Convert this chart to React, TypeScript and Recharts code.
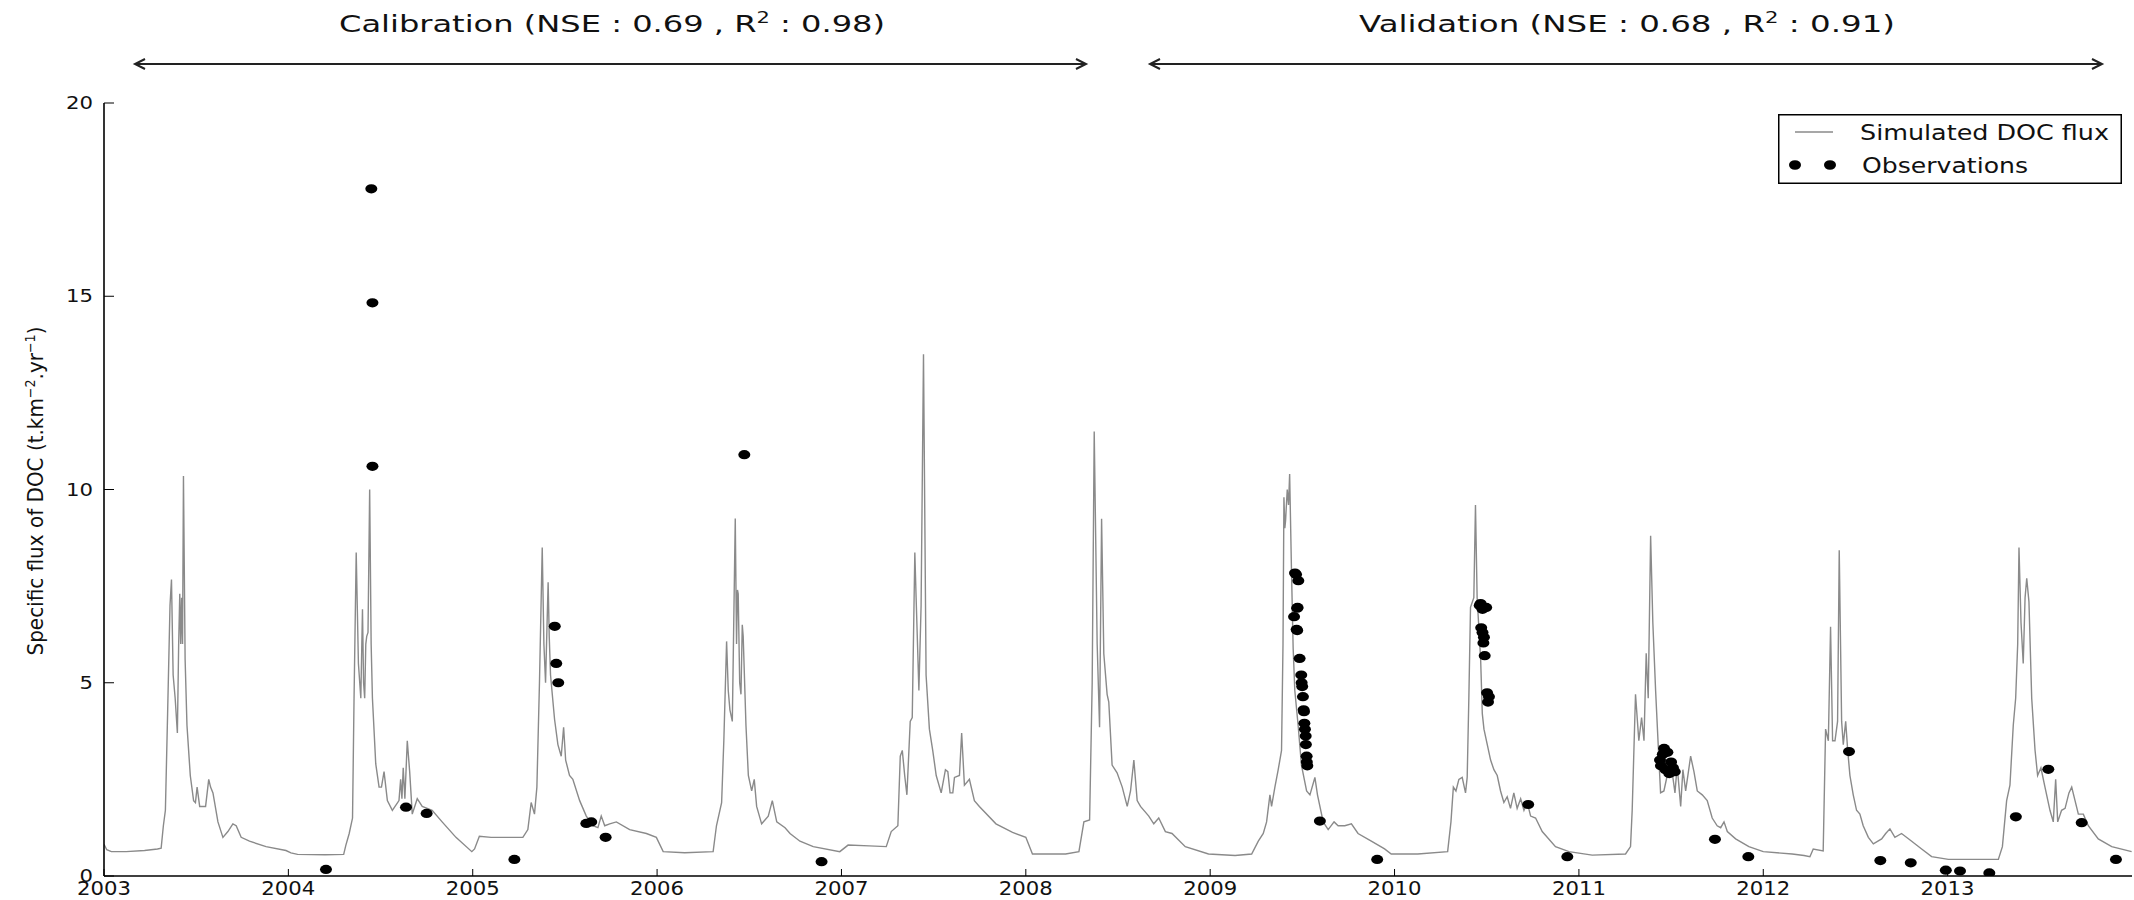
import React from 'react';
import { ComposedChart, Line, Scatter, XAxis, YAxis, Legend } from 'recharts';

const YEAR_TICKS = [2003, 2004, 2005, 2006, 2007, 2008, 2009, 2010, 2011, 2012, 2013];
const FLUX_TICKS = [0, 5, 10, 15, 20];

// simulated DOC flux, [decimal year, t.km-2.yr-1]
const sim2003 = [
    [2003.0, 0.82], [2003.015, 0.68], [2003.04, 0.63], [2003.12, 0.63], [2003.22, 0.66], [2003.29, 0.7],
    [2003.31, 0.72], [2003.322, 1.3], [2003.333, 1.7], [2003.345, 4.2], [2003.358, 7.0], [2003.366, 7.67],
    [2003.375, 5.2], [2003.386, 4.6], [2003.398, 3.7], [2003.405, 6.0], [2003.411, 7.3], [2003.416, 6.0],
    [2003.421, 7.2], [2003.426, 6.0], [2003.431, 10.35], [2003.44, 5.6], [2003.45, 3.9], [2003.468, 2.6],
    [2003.486, 1.95], [2003.496, 1.9], [2003.505, 2.3], [2003.519, 1.8], [2003.551, 1.8], [2003.568, 2.5],
    [2003.578, 2.3], [2003.591, 2.15], [2003.618, 1.4], [2003.645, 1.0], [2003.672, 1.15], [2003.699, 1.35],
    [2003.717, 1.3], [2003.744, 1.0], [2003.789, 0.9], [2003.879, 0.76], [2003.987, 0.66],
];
const sim2004 = [
    [2004.014, 0.6], [2004.05, 0.56], [2004.2, 0.55], [2004.3, 0.56], [2004.312, 0.8], [2004.33, 1.1],
    [2004.348, 1.5], [2004.356, 4.5], [2004.368, 8.37], [2004.38, 5.5], [2004.393, 4.6], [2004.402, 6.9],
    [2004.408, 5.0], [2004.414, 4.6], [2004.42, 6.0], [2004.425, 6.2], [2004.432, 6.3], [2004.441, 10.0],
    [2004.449, 6.0], [2004.456, 4.6], [2004.474, 2.9], [2004.492, 2.3], [2004.505, 2.3], [2004.519, 2.7],
    [2004.537, 1.95], [2004.564, 1.7], [2004.6, 1.95], [2004.609, 2.5], [2004.616, 2.0], [2004.623, 2.8],
    [2004.632, 2.0], [2004.645, 3.5], [2004.658, 2.7], [2004.672, 1.6], [2004.699, 2.0], [2004.726, 1.8],
    [2004.78, 1.7], [2004.834, 1.4], [2004.909, 1.0], [2004.995, 0.63],
];
const sim2005 = [
    [2005.01, 0.7], [2005.036, 1.03], [2005.1, 1.0], [2005.272, 1.0], [2005.299, 1.2], [2005.317, 1.9],
    [2005.335, 1.6], [2005.348, 2.3], [2005.362, 5.0], [2005.377, 8.5], [2005.386, 6.0], [2005.395, 5.0],
    [2005.409, 7.6], [2005.415, 6.2], [2005.422, 5.2], [2005.444, 4.05], [2005.462, 3.4], [2005.48, 3.1],
    [2005.493, 3.85], [2005.504, 3.0], [2005.525, 2.6], [2005.543, 2.5], [2005.58, 1.95], [2005.616, 1.55],
    [2005.652, 1.3], [2005.679, 1.25], [2005.697, 1.55], [2005.716, 1.3], [2005.743, 1.35], [2005.779, 1.4],
    [2005.851, 1.2], [2005.942, 1.1], [2005.996, 1.0],
];
const sim2006 = [
    [2006.033, 0.63], [2006.15, 0.6], [2006.304, 0.63], [2006.322, 1.3], [2006.35, 1.9], [2006.362, 3.5],
    [2006.377, 6.07], [2006.386, 4.8], [2006.395, 4.3], [2006.408, 4.0], [2006.424, 9.25], [2006.431, 6.0],
    [2006.436, 7.4], [2006.44, 7.3], [2006.448, 5.0], [2006.455, 4.7], [2006.462, 6.5], [2006.467, 6.2],
    [2006.482, 3.9], [2006.495, 2.6], [2006.513, 2.2], [2006.527, 2.5], [2006.54, 1.8], [2006.567, 1.35],
    [2006.603, 1.55], [2006.625, 1.95], [2006.649, 1.4], [2006.694, 1.25], [2006.721, 1.1], [2006.775, 0.9],
    [2006.847, 0.76], [2006.991, 0.63],
];
const sim2007 = [
    [2007.036, 0.8], [2007.15, 0.78], [2007.243, 0.76], [2007.27, 1.15], [2007.306, 1.3], [2007.319, 3.1],
    [2007.33, 3.25], [2007.343, 2.6], [2007.355, 2.1], [2007.373, 4.0], [2007.384, 4.1], [2007.398, 8.37],
    [2007.405, 7.2], [2007.42, 4.8], [2007.432, 7.0], [2007.445, 13.5], [2007.459, 5.2], [2007.477, 3.8],
    [2007.495, 3.25], [2007.514, 2.6], [2007.541, 2.15], [2007.564, 2.75], [2007.577, 2.7], [2007.589, 2.15],
    [2007.604, 2.15], [2007.613, 2.55], [2007.64, 2.6], [2007.652, 3.7], [2007.667, 2.35], [2007.694, 2.5],
    [2007.721, 1.95], [2007.748, 1.8], [2007.838, 1.35], [2007.928, 1.13], [2008.0, 1.0],
];
const sim2008 = [
    [2008.036, 0.57], [2008.216, 0.57], [2008.288, 0.63], [2008.315, 1.4], [2008.346, 1.45], [2008.36, 5.0],
    [2008.371, 11.5], [2008.387, 6.0], [2008.4, 3.85], [2008.411, 9.24], [2008.423, 5.75], [2008.441, 4.7],
    [2008.45, 4.5], [2008.468, 2.87], [2008.495, 2.67], [2008.523, 2.3], [2008.55, 1.8], [2008.568, 2.2],
    [2008.586, 3.0], [2008.604, 1.95], [2008.622, 1.8], [2008.667, 1.55], [2008.694, 1.35], [2008.721, 1.5],
    [2008.757, 1.15], [2008.793, 1.1], [2008.865, 0.76], [2008.991, 0.57],
];
const sim2009 = [
    [2009.135, 0.53], [2009.225, 0.57], [2009.261, 0.9], [2009.288, 1.1], [2009.306, 1.4], [2009.324, 2.1],
    [2009.333, 1.8], [2009.351, 2.3], [2009.369, 2.75], [2009.387, 3.25], [2009.395, 6.0], [2009.4, 9.8],
    [2009.405, 9.0], [2009.409, 9.2], [2009.418, 10.0], [2009.425, 9.6], [2009.431, 10.4], [2009.441, 7.9],
    [2009.45, 5.9], [2009.459, 4.8], [2009.477, 3.9], [2009.495, 2.87], [2009.523, 2.2], [2009.541, 2.1],
    [2009.568, 2.55], [2009.582, 2.1], [2009.613, 1.4], [2009.64, 1.2], [2009.672, 1.4], [2009.694, 1.3],
    [2009.73, 1.3], [2009.766, 1.35], [2009.802, 1.1], [2009.874, 0.9], [2009.946, 0.7], [2009.982, 0.57],
];
const sim2010 = [
    [2010.126, 0.57], [2010.288, 0.63], [2010.306, 1.4], [2010.319, 2.3], [2010.333, 2.2], [2010.349, 2.5],
    [2010.367, 2.55], [2010.385, 2.15], [2010.394, 2.55], [2010.403, 4.6], [2010.412, 6.95], [2010.43, 7.2],
    [2010.439, 9.6], [2010.448, 7.2], [2010.467, 5.6], [2010.476, 4.2], [2010.485, 3.8], [2010.503, 3.4],
    [2010.521, 3.0], [2010.539, 2.75], [2010.557, 2.6], [2010.575, 2.2], [2010.593, 1.9], [2010.611, 2.05],
    [2010.629, 1.75], [2010.647, 2.15], [2010.665, 1.75], [2010.684, 2.0], [2010.702, 1.7], [2010.72, 1.9],
    [2010.738, 1.55], [2010.765, 1.5], [2010.801, 1.15], [2010.873, 0.76], [2010.946, 0.63],
];
const sim2011 = [
    [2011.072, 0.54], [2011.253, 0.57], [2011.28, 0.76], [2011.289, 1.7], [2011.307, 4.7], [2011.325, 3.5],
    [2011.34, 4.1], [2011.353, 3.5], [2011.365, 5.76], [2011.376, 4.6], [2011.389, 8.8], [2011.401, 6.55],
    [2011.416, 4.8], [2011.43, 3.4], [2011.443, 2.15], [2011.461, 2.2], [2011.479, 2.6], [2011.497, 3.0],
    [2011.521, 2.15], [2011.533, 2.85], [2011.552, 1.8], [2011.564, 2.75], [2011.579, 2.2], [2011.606, 3.1],
    [2011.624, 2.7], [2011.642, 2.2], [2011.669, 2.1], [2011.696, 1.95], [2011.723, 1.5], [2011.75, 1.3],
    [2011.769, 1.25], [2011.787, 1.4], [2011.805, 1.15], [2011.85, 0.96], [2011.922, 0.76],
];
const sim2012 = [
    [2012.0, 0.63], [2012.157, 0.57], [2012.221, 0.53], [2012.253, 0.5], [2012.271, 0.7], [2012.325, 0.65],
    [2012.338, 3.8], [2012.353, 3.5], [2012.365, 6.45], [2012.376, 3.5], [2012.389, 3.5], [2012.403, 4.0],
    [2012.412, 8.43], [2012.425, 4.0], [2012.434, 3.4], [2012.447, 4.0], [2012.458, 3.25], [2012.47, 2.6],
    [2012.488, 2.1], [2012.506, 1.7], [2012.524, 1.6], [2012.542, 1.3], [2012.57, 1.0], [2012.597, 0.83],
    [2012.642, 0.96], [2012.664, 1.1], [2012.687, 1.22], [2012.714, 1.0], [2012.75, 1.1], [2012.805, 0.9],
    [2012.859, 0.7], [2012.913, 0.5],
];
const sim2013 = [
    [2013.004, 0.43], [2013.275, 0.43], [2013.297, 0.76], [2013.32, 1.95], [2013.338, 2.35], [2013.356, 3.9],
    [2013.369, 4.6], [2013.38, 6.0], [2013.387, 8.5], [2013.398, 6.55], [2013.41, 5.5], [2013.42, 7.2],
    [2013.429, 7.7], [2013.441, 7.1], [2013.456, 4.6], [2013.474, 3.26], [2013.488, 2.6], [2013.506, 2.8],
    [2013.528, 2.3], [2013.555, 1.7], [2013.573, 1.4], [2013.586, 2.5], [2013.597, 1.4], [2013.618, 1.7],
    [2013.637, 1.75], [2013.658, 2.15], [2013.673, 2.3], [2013.691, 1.95], [2013.709, 1.6], [2013.736, 1.6],
    [2013.763, 1.3], [2013.817, 0.96], [2013.89, 0.76], [2013.998, 0.63],
];

// observed fluxes
const obsCalib = [
    [2004.204, 0.17], [2004.45, 17.78], [2004.456, 14.83], [2004.456, 10.6], [2004.638, 1.78], [2004.75, 1.62],
    [2005.226, 0.43], [2005.445, 6.46], [2005.453, 5.5], [2005.464, 5.0], [2005.616, 1.36], [2005.643, 1.4],
    [2005.721, 1.0], [2006.473, 10.9], [2006.892, 0.37],
];
const obs2009 = [
    [2009.455, 6.71], [2009.46, 7.84], [2009.466, 7.8], [2009.472, 6.93], [2009.478, 7.64], [2009.474, 6.95],
    [2009.469, 6.38], [2009.472, 6.35], [2009.485, 5.63], [2009.494, 5.2], [2009.496, 5.0], [2009.499, 4.9],
    [2009.503, 4.64], [2009.507, 4.3], [2009.509, 4.25], [2009.511, 3.95], [2009.514, 3.8], [2009.518, 3.62],
    [2009.519, 3.4], [2009.523, 3.1], [2009.524, 2.95], [2009.527, 2.85], [2009.595, 1.42], [2009.906, 0.43],
];
const obs2010 = [
    [2010.462, 7.0], [2010.467, 7.05], [2010.477, 6.9], [2010.497, 6.95], [2010.47, 6.42], [2010.477, 6.3],
    [2010.485, 6.18], [2010.482, 6.03], [2010.489, 5.7], [2010.502, 4.74], [2010.512, 4.64], [2010.507, 4.5],
    [2010.725, 1.85], [2010.937, 0.5],
];
const obs2011 = [
    [2011.44, 3.0], [2011.445, 2.85], [2011.455, 3.15], [2011.462, 3.3], [2011.47, 2.75], [2011.48, 3.2],
    [2011.49, 2.65], [2011.5, 2.95], [2011.51, 2.8], [2011.52, 2.7], [2011.738, 0.95], [2011.919, 0.5],
];
const obs2012 = [
    [2012.465, 3.22], [2012.635, 0.4], [2012.8, 0.34], [2012.99, 0.15],
    [2013.067, 0.13], [2013.226, 0.08], [2013.37, 1.53], [2013.546, 2.76], [2013.727, 1.38], [2013.913, 0.43],
];

const toPoints = (rows: number[][]) => rows.map(([t, v]) => ({ t, v }));

const simData = toPoints([
    ...sim2003, ...sim2004, ...sim2005, ...sim2006, ...sim2007, ...sim2008,
    ...sim2009, ...sim2010, ...sim2011, ...sim2012, ...sim2013,
]);
const obsData = toPoints([...obsCalib, ...obs2009, ...obs2010, ...obs2011, ...obs2012]);

const FONT = 'DejaVu Sans';
const LINE_GREY = '#8a8a8a';

const BottomTick = ({ x, y, payload }: any) => (
    <g>
        <line x1={x} y1={y} x2={x} y2={y - 7} stroke="#000" strokeWidth={1} />
        <text x={x} y={y + 19} textAnchor="middle" fontSize={20} fontFamily={FONT} fill="#111"
            textLength={54} lengthAdjust="spacingAndGlyphs">
            {payload.value}
        </text>
    </g>
);

const TopTick = ({ x, y }: any) => (
    <line x1={x} y1={y} x2={x} y2={y + 7} stroke="#000" strokeWidth={1} />
);

const LeftTick = ({ x, y, payload }: any) => {
    const label = String(payload.value);
    return (
        <g>
            <line x1={x} y1={y} x2={x + 10} y2={y} stroke="#000" strokeWidth={1} />
            <text x={x - 11} y={y} dy="0.36em" textAnchor="end" fontSize={17} fontFamily={FONT} fill="#111"
                textLength={label.length * 13.5} lengthAdjust="spacingAndGlyphs">
                {label}
            </text>
        </g>
    );
};

const RightTick = ({ x, y }: any) => (
    <line x1={x - 10} y1={y} x2={x} y2={y} stroke="#000" strokeWidth={1} />
);

const ObsDot = ({ cx, cy }: any) => <ellipse cx={cx} cy={cy} rx={6} ry={4.6} fill="#000" />;

const LegendBox = () => (
    <svg width={344} height={70} style={{ display: 'block' }}>
        <rect x={0.75} y={0.75} width={342.5} height={68.5} fill="#fff" stroke="#000" strokeWidth={1.5} />
        <line x1={17} x2={55} y1={18} y2={18} stroke={LINE_GREY} strokeWidth={1.3} />
        <text x={82} y={18} dy="0.36em" fontSize={22} fontFamily={FONT} fill="#111"
            textLength={249} lengthAdjust="spacingAndGlyphs">Simulated DOC flux</text>
        <ellipse cx={17} cy={51} rx={6} ry={4.8} fill="#000" />
        <ellipse cx={52} cy={51} rx={6} ry={4.8} fill="#000" />
        <text x={84} y={51} dy="0.36em" fontSize={22} fontFamily={FONT} fill="#111"
            textLength={166} lengthAdjust="spacingAndGlyphs">Observations</text>
    </svg>
);

const Arrow = ({ x1, x2, y }: { x1: number; x2: number; y: number }) => (
    <g stroke="#222" strokeWidth={2} fill="none">
        <line x1={x1} y1={y} x2={x2} y2={y} />
        <polyline points={`${x1 + 10},${y - 5} ${x1},${y} ${x1 + 10},${y + 5}`} />
        <polyline points={`${x2 - 10},${y - 5} ${x2},${y} ${x2 - 10},${y + 5}`} />
    </g>
);

const PeriodTitle = ({ x, width, name, nse, r2 }: any) => (
    <text x={x} y={32} fontSize={23} fontFamily={FONT} fill="#111" textLength={width} lengthAdjust="spacingAndGlyphs">
        {`${name} (NSE : ${nse} , R`}
        <tspan dy={-9} fontSize={15}>2</tspan>
        <tspan dy={9}>{` : ${r2})`}</tspan>
    </text>
);

const App: React.FC = () => (
    <div style={{ position: 'absolute', left: 0, top: 0, width: 2134, height: 900, background: '#fff' }}>
        <ComposedChart width={2134} height={900} margin={{ top: 103, right: 2, bottom: 0, left: 0 }}>
            <XAxis
                dataKey="t" type="number" domain={[2003, 2014]} allowDataOverflow ticks={YEAR_TICKS} interval={0}
                height={24} tickSize={0} tickMargin={0} tickLine={false}
                axisLine={{ stroke: '#000', strokeWidth: 1.6 }} tick={<BottomTick />}
            />
            <XAxis
                xAxisId="top" orientation="top" dataKey="t" type="number" domain={[2003, 2014]} allowDataOverflow
                ticks={YEAR_TICKS} interval={0} height={0} tickSize={0} tickMargin={0} tickLine={false}
                axisLine={{ stroke: '#000', strokeWidth: 1.6 }} tick={<TopTick />}
            />
            <YAxis
                type="number" domain={[0, 20]} allowDataOverflow ticks={FLUX_TICKS} interval={0} width={104}
                tickSize={0} tickMargin={0} tickLine={false}
                axisLine={{ stroke: '#000', strokeWidth: 1.6 }} tick={<LeftTick />}
            />
            <YAxis
                yAxisId="right" orientation="right" type="number" domain={[0, 20]} allowDataOverflow
                ticks={FLUX_TICKS} interval={0} width={0} tickSize={0} tickMargin={0} tickLine={false}
                axisLine={{ stroke: '#000', strokeWidth: 1.6 }} tick={<RightTick />}
            />
            <Line
                data={simData} dataKey="v" type="linear" stroke={LINE_GREY} strokeWidth={1.4}
                dot={false} activeDot={false} isAnimationActive={false} name="Simulated DOC flux"
            />
            <Scatter data={obsData} dataKey="v" shape={<ObsDot />} isAnimationActive={false} name="Observations" />
            <Legend
                layout="vertical" align="center" verticalAlign="middle" content={<LegendBox />}
                wrapperStyle={{ position: 'absolute', left: 1778, top: 114, width: 344, height: 70 }}
            />
        </ComposedChart>
        <svg width={2134} height={900} style={{ position: 'absolute', left: 0, top: 0, pointerEvents: 'none' }}>
            <PeriodTitle x={339} width={546} name="Calibration" nse="0.69" r2="0.98" />
            <PeriodTitle x={1359} width={536} name="Validation" nse="0.68" r2="0.91" />
            <Arrow x1={135} x2={1086} y={64} />
            <Arrow x1={1150} x2={2102} y={64} />
            <text
                x={43} y={491} transform="rotate(-90, 43, 491)" textAnchor="middle" fontSize={22}
                fontFamily={FONT} fill="#111" textLength={329} lengthAdjust="spacingAndGlyphs"
            >
                Specific flux of DOC (t.km
                <tspan dy={-8} fontSize={14}>−2</tspan>
                <tspan dy={8}>.yr</tspan>
                <tspan dy={-8} fontSize={14}>−1</tspan>
                <tspan dy={8}>)</tspan>
            </text>
        </svg>
    </div>
);

export default App;
